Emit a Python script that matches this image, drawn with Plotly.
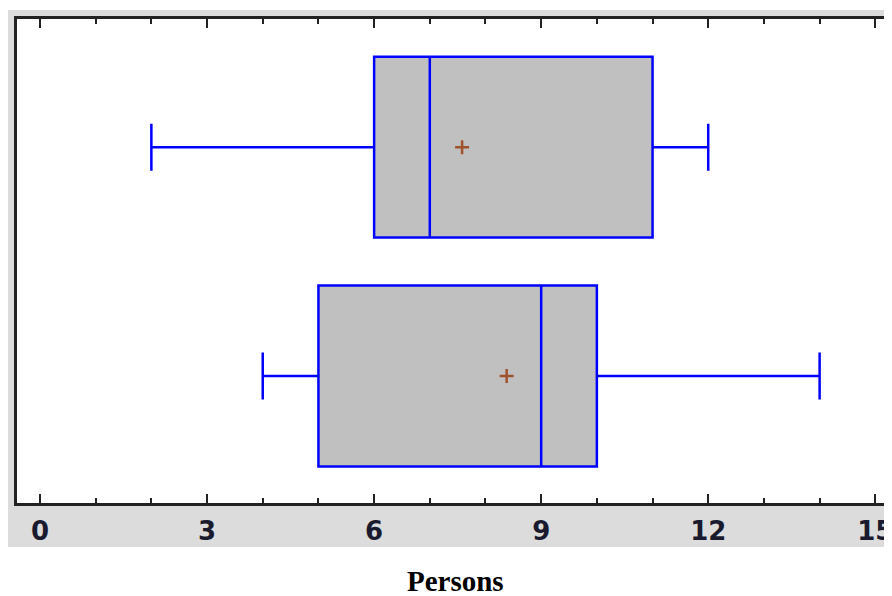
import plotly.graph_objects as go

# Data
groups = ["Group A", "Group B"]
positions = [2, 1]
lower_fence = [2, 4]
q1 = [6, 5]
median = [7, 9]
q3 = [11, 10]
upper_fence = [12, 14]
means = [7.58, 8.38]
tick_vals = [0, 3, 6, 9, 12, 15]
tick_text = ["0", "3", "6", "9", "12", "15"]
x_title = "Persons"

fig = go.Figure()
fig.add_trace(go.Box(
    y=positions, q1=q1, median=median, q3=q3,
    lowerfence=lower_fence, upperfence=upper_fence,
    orientation="h", width=0.79, whiskerwidth=0.26,
    fillcolor="#C0C0C0", line=dict(color="#0000FF", width=2.5),
    boxpoints=False, showlegend=False, hoverinfo="skip",
))
fig.add_trace(go.Scatter(
    x=means, y=positions, mode="markers",
    marker=dict(symbol="cross-thin", size=10,
                line=dict(color="#A0522D", width=2.5)),
    showlegend=False, hoverinfo="skip",
))

# page has an 8px body offset; figure is 884x588 placed at (8,8)
fig.update_layout(
    width=884, height=588,
    margin=dict(l=9, r=0, t=11, b=93),
    paper_bgcolor="white", plot_bgcolor="white",
    shapes=[
        dict(type="rect", xref="paper", yref="paper",
             x0=-10/875, x1=1.02, y0=-44/484, y1=1 + 9/484,
             fillcolor="#DCDCDC", line=dict(width=0), layer="below"),
        dict(type="rect", xref="paper", yref="paper",
             x0=0, x1=1.02, y0=0, y1=1,
             fillcolor="white", line=dict(width=0), layer="below"),
    ],
    annotations=[dict(text=x_title, xref="paper", yref="paper",
                      x=(456-17)/875, y=-(581-503)/484, xanchor="center", yanchor="middle",
                      showarrow=False,
                      font=dict(family="Liberation Serif", size=29, color="black", weight="bold"))],
)
fig.update_xaxes(
    range=[-0.413, 15.3], tickvals=tick_vals, ticktext=tick_text,
    ticks="inside", ticklen=9, tickwidth=2, tickcolor="#222",
    showline=True, linecolor="#222", linewidth=3, mirror="ticks",
    showgrid=False, zeroline=False,
    minor=dict(dtick=1, tick0=0, ticks="inside", ticklen=5, tickwidth=2, tickcolor="#222", showgrid=False),
    tickfont=dict(family="DejaVu Sans", size=26, color="#1a1a2e", weight="bold"),
    ticklabelstandoff=3, ticklabeloverflow="allow",
)
fig.update_yaxes(
    range=[0.445, 2.56], showticklabels=False, ticks="",
    showline=True, linecolor="#222", linewidth=3, mirror=False,
    showgrid=False, zeroline=False,
)

fig.write_html("out.html")
